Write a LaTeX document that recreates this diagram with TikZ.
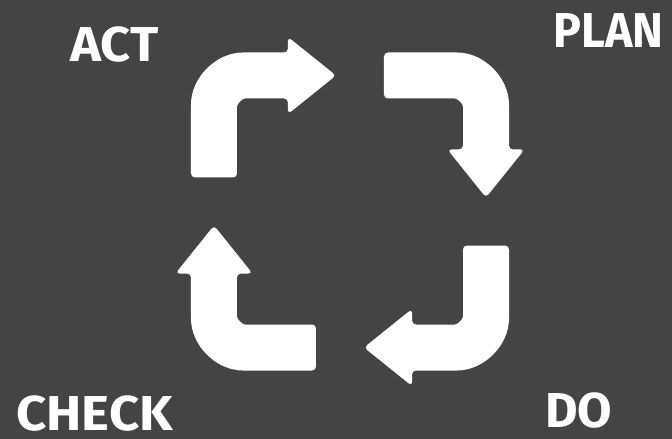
\documentclass[tikz,border=0pt]{standalone}
\usepackage{fontspec}
\setmainfont{Fira Sans}
\definecolor{bg}{HTML}{444444}
\begin{document}
\begin{tikzpicture}[x=1pt,y=1pt,
  bentarrow/.style={fill=white, rounded corners=4pt},
  lbl/.style={text=white, font=\bfseries\fontsize{49}{49}\selectfont, inner sep=0pt, text depth=0pt, transform shape}]
\fill[bg] (-350,-227.5) rectangle (322,211.5);
\useasboundingbox (-350,-227.5) rectangle (322,211.5);
\foreach \r in {0, -90, -180, -270}{
  \begin{scope}[rotate=\r]
    \fill[bentarrow] (-159,34) -- (-113,34) -- (-113,101)
      arc[start angle=180,end angle=90,radius=12] -- (-62,113) -- (-62,97.5)
      -- (-14,136) -- (-62,174.5) -- (-62,159) -- (-103,159)
      arc[start angle=90,end angle=180,radius=56] -- cycle;
  \end{scope}
}
\node[lbl, anchor=base west, xscale=1.07] (act) at (-280,149.5) {ACT};
\node[lbl, anchor=base east, xscale=0.95] (plan) at (314,163.5) {PLAN};
\node[lbl, anchor=base west, xscale=1.08] (check) at (-334,-218.5) {CHECK};
\node[lbl, anchor=base west, xscale=1.02] (do) at (195,-215.5) {DO};
\end{tikzpicture}
\end{document}
